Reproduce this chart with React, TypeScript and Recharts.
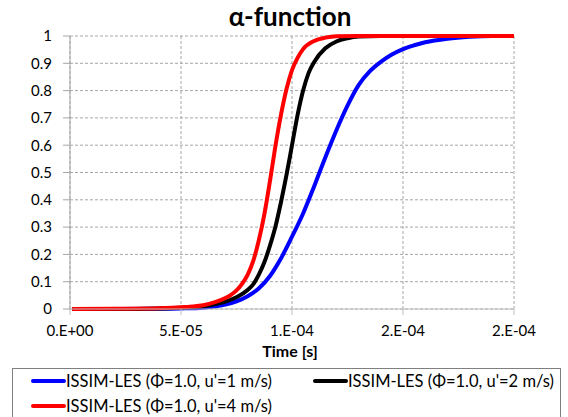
import React from "react";
import { LineChart, Line, XAxis, YAxis, CartesianGrid, Legend } from "recharts";

// Time [s] and alpha values
const blueTime = [1e-6, 2e-5, 4e-5, 5e-5, 6e-5, 6.5e-5, 7e-5, 7.5e-5, 8e-5, 8.5e-5, 9e-5, 9.5e-5, 1.0e-4, 1.05e-4, 1.1e-4, 1.15e-4, 1.2e-4, 1.25e-4, 1.3e-4, 1.35e-4, 1.4e-4, 1.45e-4, 1.5e-4, 1.55e-4, 1.6e-4, 1.7e-4, 1.8e-4, 1.9e-4, 2e-4];
const blueVal = [0, 0, 0.001, 0.002, 0.005, 0.009, 0.016, 0.028, 0.047, 0.075, 0.12, 0.185, 0.265, 0.35, 0.45, 0.555, 0.655, 0.745, 0.82, 0.87, 0.905, 0.932, 0.952, 0.966, 0.977, 0.99, 0.997, 1, 1];

const blackTime = [1e-6, 2e-5, 4e-5, 5e-5, 6e-5, 6.5e-5, 7e-5, 7.5e-5, 8e-5, 8.25e-5, 8.5e-5, 8.75e-5, 9e-5, 9.25e-5, 9.5e-5, 9.75e-5, 1.0e-4, 1.025e-4, 1.05e-4, 1.075e-4, 1.1e-4, 1.15e-4, 1.2e-4, 1.25e-4, 1.3e-4, 1.4e-4, 2e-4];
const blackVal = [0, 0, 0.002, 0.005, 0.01, 0.017, 0.027, 0.043, 0.07, 0.09, 0.125, 0.17, 0.23, 0.3, 0.39, 0.49, 0.6, 0.71, 0.8, 0.865, 0.905, 0.955, 0.98, 0.992, 0.998, 1, 1];

const redTime = [1e-6, 2e-5, 4e-5, 5e-5, 5.5e-5, 6e-5, 6.5e-5, 7e-5, 7.25e-5, 7.5e-5, 7.75e-5, 8e-5, 8.25e-5, 8.5e-5, 8.75e-5, 9e-5, 9.25e-5, 9.5e-5, 9.75e-5, 1.0e-4, 1.025e-4, 1.05e-4, 1.1e-4, 1.15e-4, 1.2e-4, 1.3e-4, 2e-4];
const redVal = [0, 0.001, 0.003, 0.006, 0.009, 0.014, 0.024, 0.04, 0.052, 0.068, 0.092, 0.125, 0.175, 0.25, 0.345, 0.465, 0.595, 0.71, 0.805, 0.875, 0.92, 0.952, 0.982, 0.994, 0.999, 1, 1];

const xTicks = [0, 5e-5, 1e-4, 1.5e-4, 2e-4];
const yTicks = [0, 0.1, 0.2, 0.3, 0.4, 0.5, 0.6, 0.7, 0.8, 0.9, 1];

const seriesNames = [
  "ISSIM-LES (\u03A6=1.0, u'=1 m/s)",
  "ISSIM-LES (\u03A6=1.0, u'=2 m/s)",
  "ISSIM-LES (\u03A6=1.0, u'=4 m/s)",
];
const seriesColors = ["#0000ff", "#000000", "#ff0000"];

const title = "\u03B1-function";
const xLabel = "Time [s]";

const build = (ts: number[], vs: number[]) => ts.map((t, i) => ({ t, v: vs[i] }));
const blueData = build(blueTime, blueVal);
const blackData = build(blackTime, blackVal);
const redData = build(redTime, redVal);

const FONT = "Lato, 'Open Sans', sans-serif";

const fmtX = (v: number) => {
  if (v === 0) return "0.E+00";
  let e = Math.floor(Math.log10(Math.abs(v)) + 1e-9);
  let m = Math.round(v / Math.pow(10, e) + 1e-9);
  if (m >= 10) {
    m = 1;
    e += 1;
  }
  const sign = e < 0 ? "-" : "+";
  const ae = Math.abs(e);
  return `${m}.E${sign}${ae < 10 ? "0" + ae : ae}`;
};
const fmtY = (v: number) => String(Math.round(v * 10) / 10);

const LegendBox = () => {
  const item = (i: number, left: number, top: number) => (
    <div
      key={i}
      style={{
        position: "absolute",
        left,
        top,
        display: "flex",
        alignItems: "center",
        whiteSpace: "nowrap",
      }}
    >
      <div style={{ width: 35, height: 4, background: seriesColors[i], borderRadius: 2 }} />
      <span style={{ fontFamily: FONT, fontSize: 16.5, color: "#000" }}>{seriesNames[i]}</span>
    </div>
  );
  return (
    <div
      style={{
        position: "relative",
        width: 549,
        height: 54,
        border: "1px solid #7f7f7f",
        boxSizing: "border-box",
        background: "#fff",
      }}
    >
      {item(0, 18, 2)}
      {item(1, 300, 2)}
      {item(2, 18, 27)}
    </div>
  );
};

export default function App() {
  return (
    <div style={{ position: "absolute", left: 0, top: 0, width: 568, height: 417, overflow: "hidden" }}>
      <LineChart
        width={568}
        height={417}
        margin={{ top: 36, right: 54, bottom: 78, left: 30 }}
      >
        <CartesianGrid stroke="#a6a6a6" strokeDasharray="3 2" />
        <XAxis
          dataKey="t"
          type="number"
          domain={[0, 2e-4]}
          ticks={xTicks}
          tickFormatter={fmtX}
          allowDataOverflow
          stroke="#bfbfbf"
          tickSize={6}
          tickMargin={10}
          height={30}
          tick={{ fill: "#000", fontFamily: FONT, fontSize: 15 }}
          tickLine={{ stroke: "#bfbfbf" }}
        />
        <YAxis
          type="number"
          domain={[0, 1]}
          ticks={yTicks}
          tickFormatter={fmtY}
          stroke="#a6a6a6"
          tickSize={7}
          tickMargin={11}
          width={40}
          tick={{ fill: "#000", fontFamily: FONT, fontSize: 15 }}
          tickLine={{ stroke: "#a6a6a6" }}
        />
        <Line data={blueData} dataKey="v" type="monotone" stroke={seriesColors[0]} strokeWidth={4} dot={false} isAnimationActive={false} name={seriesNames[0]} />
        <Line data={blackData} dataKey="v" type="monotone" stroke={seriesColors[1]} strokeWidth={4} dot={false} isAnimationActive={false} name={seriesNames[1]} />
        <Line data={redData} dataKey="v" type="monotone" stroke={seriesColors[2]} strokeWidth={4} dot={false} isAnimationActive={false} name={seriesNames[2]} />
        <Legend
          layout="horizontal"
          verticalAlign="middle"
          align="center"
          content={() => <LegendBox />}
          wrapperStyle={{ position: "absolute", left: 12, top: 368, width: 549, height: 54 }}
        />
        <text x={290} y={26} textAnchor="middle" fontFamily={FONT} fontWeight="bold" fontSize={26} fill="#000">
          {title}
        </text>
        <text x={290} y={357} textAnchor="middle" fontFamily={FONT} fontWeight="bold" fontSize={16} fill="#000">
          {xLabel}
        </text>
      </LineChart>
    </div>
  );
}
